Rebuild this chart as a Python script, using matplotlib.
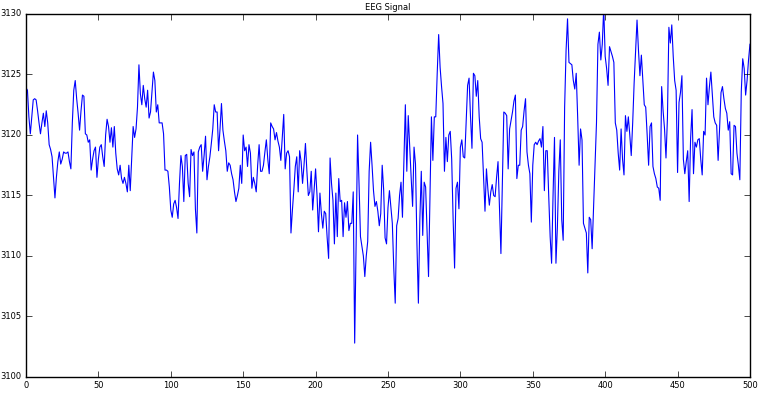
import matplotlib
matplotlib.use("Agg")
import matplotlib.pyplot as plt
import numpy as np

# EEG samples (sample 0 .. 500)
eeg = [
    3123.9, 3123.7, 3121.5, 3120.1, 3121.5, 3122.9, 3123.0, 3122.9, 3122.0, 3121.0,
    3120.1, 3121.0, 3121.8, 3120.7, 3122.0, 3121.0, 3119.2, 3118.8, 3118.2, 3116.5,
    3114.8, 3116.5, 3117.8, 3118.6, 3117.6, 3118.0, 3118.6, 3118.5, 3118.5, 3118.6,
    3117.8, 3117.2, 3121.0, 3123.7, 3124.5, 3123.0, 3121.8, 3120.4, 3122.0, 3123.3,
    3123.2, 3120.1, 3120.0, 3119.4, 3119.6, 3117.1, 3118.0, 3118.7, 3119.0, 3116.5,
    3118.0,
    3119.0, 3119.2, 3118.2, 3117.4, 3120.0, 3121.3, 3120.7, 3119.4, 3120.6, 3119.0,
    3120.7, 3118.5, 3117.2, 3116.7, 3117.5, 3116.4, 3116.0, 3116.5, 3116.0, 3115.3,
    3117.5, 3115.4, 3118.0, 3120.7, 3119.8, 3120.5, 3122.3, 3125.8, 3123.4, 3122.5,
    3124.1, 3123.0, 3122.3, 3123.7, 3121.4, 3121.9, 3123.5, 3125.2, 3124.5, 3121.9,
    3122.5, 3121.0, 3121.0, 3121.0, 3120.1, 3117.1, 3117.1, 3117.0, 3115.7, 3113.8,
    3113.2, 3114.3, 3114.6, 3114.0, 3113.1, 3116.0, 3118.3, 3117.4, 3114.5, 3118.3,
    3118.4, 3116.0, 3114.9, 3118.8, 3118.3, 3118.6, 3113.9, 3111.9, 3118.6, 3119.0,
    3119.2, 3117.0, 3118.3, 3119.9, 3116.3, 3117.4, 3118.2, 3119.3, 3120.5, 3122.5,
    3121.9, 3121.9, 3118.7, 3120.5, 3122.6, 3120.4, 3119.5, 3118.7, 3117.0, 3117.7,
    3117.5, 3116.8, 3116.3, 3115.3, 3114.5, 3115.0, 3115.6, 3117.5, 3116.0, 3120.0,
    3118.7, 3119.0, 3117.4, 3119.2, 3118.5, 3115.6, 3116.5, 3116.0, 3115.3, 3117.5,
    3119.2, 3117.0, 3117.0, 3117.5, 3118.6, 3119.6, 3118.0, 3116.8, 3121.0, 3120.7,
    3120.5, 3119.6, 3120.2, 3119.5, 3119.0, 3117.9, 3119.8, 3121.7, 3117.2, 3118.5,
    3118.7, 3118.2, 3111.9, 3113.8, 3115.5, 3117.4, 3118.2, 3115.3, 3118.7, 3117.8,
    3116.0, 3117.5, 3119.3, 3117.0, 3115.0, 3115.3, 3117.0, 3113.8, 3115.5, 3117.2,
    3115.0, 3112.0, 3115.2, 3113.5, 3112.3, 3113.7, 3113.5, 3111.5, 3109.8, 3118.1,
    3116.0, 3114.6, 3111.0, 3115.2, 3111.6, 3116.4, 3114.5, 3114.6, 3111.6, 3114.4,
    3113.2, 3114.5, 3112.1, 3112.7, 3112.7, 3115.3, 3102.8, 3111.0, 3120.0, 3116.0,
    3111.6, 3110.8, 3110.0, 3108.3, 3110.0, 3111.2, 3117.0, 3119.4, 3117.5, 3115.4,
    3114.1, 3114.5, 3113.7, 3112.5, 3113.5, 3117.5, 3115.5, 3111.5, 3111.0, 3114.0,
    3115.4, 3114.0, 3112.7, 3109.0, 3106.1, 3112.5, 3113.1, 3115.0, 3116.1, 3113.2,
    3118.0, 3122.5, 3117.0, 3121.6, 3119.0, 3116.5, 3114.1, 3119.0, 3117.6, 3111.0,
    3106.1, 3113.0, 3117.0, 3111.7, 3116.1, 3115.7, 3112.0, 3108.3, 3115.0, 3121.5,
    3117.9, 3121.5, 3121.5, 3125.1, 3128.3, 3125.6, 3124.0, 3122.6, 3117.0, 3119.8,
    3117.8, 3120.0, 3120.3, 3118.0, 3113.0, 3109.0, 3115.6, 3116.1, 3113.9, 3119.0,
    3119.6, 3118.2, 3118.1, 3121.0, 3124.1, 3124.7, 3121.5, 3118.9, 3125.1, 3124.9,
    3123.2, 3124.5, 3121.5, 3119.7, 3119.4, 3116.5, 3113.7, 3117.2, 3115.5, 3114.2,
    3115.3, 3115.9, 3115.0, 3114.9, 3116.5, 3117.8, 3114.0, 3110.2, 3116.0, 3121.9,
    3121.8, 3121.6, 3117.2, 3120.5, 3121.2, 3121.9, 3122.8, 3123.3, 3116.4, 3117.5,
    3117.5, 3120.4, 3120.7, 3122.0, 3123.0, 3118.6, 3117.5, 3116.8, 3112.8, 3117.5,
    3119.2, 3119.4, 3119.2, 3119.5, 3119.7, 3119.0, 3120.7, 3115.4, 3118.7, 3118.7,
    3115.0, 3111.6, 3109.4, 3115.0, 3119.8, 3109.4, 3112.4, 3117.0, 3119.6, 3113.0,
    3111.3, 3122.3, 3127.0, 3129.6, 3126.0, 3125.9, 3125.8, 3124.5, 3123.8, 3125.1,
    3121.5, 3117.5, 3120.5, 3119.6, 3112.7, 3112.3, 3111.9, 3108.6, 3113.2, 3113.0,
    3110.6, 3114.0, 3117.4, 3121.0, 3127.5, 3128.5, 3126.2, 3127.5, 3130.5, 3126.5,
    3125.5, 3124.1, 3127.3, 3126.9, 3126.5, 3126.0, 3121.0, 3120.4, 3118.5, 3117.1,
    3120.5, 3118.0, 3116.7, 3121.6, 3120.3, 3121.5, 3120.0, 3118.3, 3121.0, 3124.3,
    3127.0, 3129.5, 3127.0, 3124.9, 3126.6, 3124.5, 3122.5, 3122.3, 3120.0, 3117.5,
    3120.7, 3121.0, 3117.4, 3116.8, 3116.4, 3115.7, 3115.6, 3114.6, 3124.0, 3122.0,
    3120.5, 3118.1, 3121.4, 3128.9, 3127.6, 3129.1, 3126.5, 3124.5, 3123.7, 3116.9,
    3122.7, 3123.5, 3124.9, 3118.0, 3116.8, 3117.8, 3118.7, 3114.5, 3119.7, 3122.1,
    3116.8, 3119.4, 3119.0, 3119.6, 3119.7, 3118.0, 3116.7, 3120.3, 3120.0, 3124.7,
    3122.5, 3124.0, 3125.2, 3123.3, 3121.5, 3121.0, 3120.8, 3117.9, 3120.5, 3123.5,
    3124.0, 3123.0, 3122.2, 3121.8, 3120.4, 3121.1, 3116.8, 3116.7, 3120.8, 3120.7,
    3118.5, 3117.5, 3116.3, 3123.6, 3126.3, 3125.5, 3123.3, 3124.5, 3126.2, 3127.5,
]
xticks = [0, 50, 100, 150, 200, 250, 300, 350, 400, 450, 500]
yticks = [3100, 3105, 3110, 3115, 3120, 3125, 3130]

plt.style.use('classic')
plt.rcParams['font.size'] = 6
plt.rcParams['axes.formatter.useoffset'] = False

fig = plt.figure(figsize=(7.6, 4.08), dpi=100)
fig.patch.set_facecolor('white')
ax = fig.add_axes([0.0342, 0.076, 0.9526, 0.8897])

samples = np.arange(len(eeg))
ax.plot(samples, eeg, color='b', linewidth=0.8)

ax.set_xlim(0, 500)
ax.set_ylim(3100, 3130)
ax.set_xticks(xticks)
ax.set_yticks(yticks)
ax.set_yticklabels([str(t) for t in yticks])
ax.tick_params(labelsize=6, pad=3)
ax.set_title('EEG Signal', fontsize=6, pad=3)

fig.savefig('out.png', dpi=100, facecolor='white')
